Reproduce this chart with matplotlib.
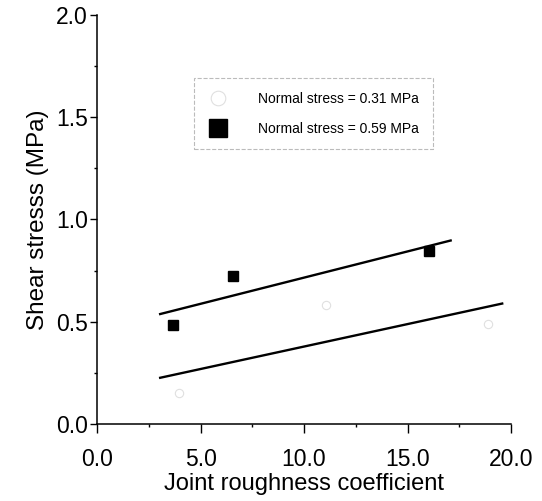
import numpy as np
import matplotlib
matplotlib.use('Agg')
import matplotlib.pyplot as plt

plt.rcParams['font.family'] = ['Liberation Sans', 'DejaVu Sans']

# normal stress = 0.31 MPa (open circles, faint in the scan)
jrc_low = [3.96, 11.05, 18.88]
tau_low = [0.150, 0.583, 0.487]
fit_low_range = [3.05, 19.57]

# normal stress = 0.59 MPa (filled squares)
jrc_high = [3.67, 6.59, 16.03]
tau_high = [0.482, 0.721, 0.848]
fit_high_range = [3.05, 17.08]

labels = ['Normal stress = 0.31 MPa', 'Normal stress = 0.59 MPa']
xticks = [0.0, 5.0, 10.0, 15.0, 20.0]
yticks = [0.0, 0.5, 1.0, 1.5, 2.0]

fig = plt.figure(figsize=(5.42, 5.01), dpi=100)
ax = fig.add_axes([0.179, 0.154, 0.764, 0.816])

ax.plot(jrc_low, tau_low, linestyle='none', marker='o', markersize=6,
        markerfacecolor='none', markeredgecolor='#e0e0e0', markeredgewidth=0.8,
        label=labels[0])
ax.plot(jrc_high, tau_high, linestyle='none', marker='s', markersize=7,
        color='black', label=labels[1])

# linear fits
for xs, ys, rng in [(jrc_low, tau_low, fit_low_range),
                    (jrc_high, tau_high, fit_high_range)]:
    k, b = np.polyfit(xs, ys, 1)
    xx = np.array(rng)
    ax.plot(xx, k * xx + b, color='black', linewidth=1.7)

ax.set_xlim(0, 20)
ax.set_ylim(0, 2.0)
ax.set_xticks(xticks)
ax.set_yticks(yticks)
ax.set_xticklabels(['%.1f' % v for v in xticks])
ax.set_yticklabels(['%.1f' % v for v in yticks])
ax.set_xticks(np.arange(2.5, 20, 5), minor=True)
ax.set_yticks(np.arange(0.25, 2.0, 0.5), minor=True)
ax.tick_params(axis='x', which='major', direction='out', length=6.5, width=1,
               labelsize=16.5, pad=11)
ax.tick_params(axis='y', which='major', direction='out', length=4.7, width=1,
               labelsize=16.5, pad=2)
ax.tick_params(which='minor', direction='out', length=2.5, width=1)

for s in ['top', 'right']:
    ax.spines[s].set_visible(False)
for s in ['left', 'bottom']:
    ax.spines[s].set_linewidth(1.1)

ax.set_xlabel('Joint roughness coefficient', fontsize=17, labelpad=1)
ax.set_ylabel('Shear stresss (MPa)', fontsize=17.5, labelpad=5)

leg = ax.legend(loc='upper left', bbox_to_anchor=(0.234, 0.845), fontsize=10,
                markerscale=1.75, handlelength=1.5, handletextpad=2.1,
                borderpad=1.0, labelspacing=1.1, fancybox=False, borderaxespad=0)
frame = leg.get_frame()
frame.set_edgecolor('#aaaaaa')
frame.set_linestyle('--')
frame.set_linewidth(0.8)

fig.savefig('out.png', dpi=100)
